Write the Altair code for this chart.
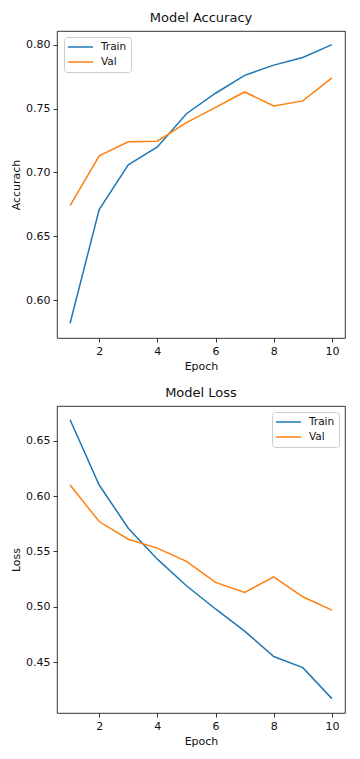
import altair as alt
import pandas as pd

epochs = [1, 2, 3, 4, 5, 6, 7, 8, 9, 10]
acc_train = [0.582, 0.671, 0.706, 0.720, 0.746, 0.762, 0.776, 0.784, 0.790, 0.800]
acc_val = [0.674, 0.713, 0.724, 0.7245, 0.739, 0.751, 0.763, 0.752, 0.756, 0.774]
loss_train = [0.669, 0.610, 0.571, 0.543, 0.519, 0.498, 0.478, 0.455, 0.445, 0.417]
loss_val = [0.610, 0.577, 0.561, 0.553, 0.541, 0.522, 0.513, 0.527, 0.509, 0.497]
series = ["Train", "Val"]
colors = ["#1f77b4", "#ff7f0e"]
x_ticks = [2, 4, 6, 8, 10]
acc_ticks = [0.60, 0.65, 0.70, 0.75, 0.80]
loss_ticks = [0.45, 0.50, 0.55, 0.60, 0.65]


def long_df(train, val):
    rows = []
    for e, v in zip(epochs, train):
        rows.append({"Epoch": e, "value": v, "Series": "Train"})
    for e, v in zip(epochs, val):
        rows.append({"Epoch": e, "value": v, "Series": "Val"})
    return pd.DataFrame(rows)


FONT = "DejaVu Sans"


def panel(df, title, ytitle, ydomain, yticks, legend_pos):
    legend_kw = dict(
        title=None, strokeColor="#cccccc", fillColor="white",
        cornerRadius=3, padding=4,
        symbolType="M-1.2,0L3.8,0", symbolSize=100,
        symbolStrokeWidth=1.5, labelFontSize=10.5,
        labelFont=FONT, labelColor="#111",
        rowPadding=3, labelOffset=21,
    )
    legend_kw.update(legend_pos)
    return (
        alt.Chart(df, title=alt.TitleParams(title, fontSize=13, fontWeight="normal",
                                            font=FONT, color="#111", offset=6))
        .mark_line(strokeWidth=1.5, clip=True)
        .encode(
            x=alt.X("Epoch:Q",
                    scale=alt.Scale(domain=[0.55, 10.45], nice=False, zero=False),
                    axis=alt.Axis(values=x_ticks, format="d", title="Epoch")),
            y=alt.Y("value:Q",
                    scale=alt.Scale(domain=ydomain, nice=False, zero=False),
                    axis=alt.Axis(values=yticks, format=".2f", title=ytitle)),
            color=alt.Color("Series:N",
                            scale=alt.Scale(domain=series, range=colors),
                            legend=alt.Legend(**legend_kw)),
        )
        .properties(width=288, height=307)
    )


top = panel(long_df(acc_train, acc_val), "Model Accuracy", "Accurach",
            [0.5705, 0.8107], acc_ticks,
            {"orient": "none", "legendX": 7, "legendY": 6})
bottom = panel(long_df(loss_train, loss_val), "Model Loss", "Loss",
               [0.404, 0.6814], loss_ticks,
               {"orient": "top-right", "offset": 6})

chart = (
    alt.vconcat(top, bottom, spacing=14)
    .properties(padding={"left": 2, "top": 3, "right": 5, "bottom": 5})
    .configure_view(stroke="black", strokeWidth=0.8)
    .configure_axis(
        domain=False, grid=False, tickColor="black", tickSize=4, tickWidth=0.8,
        labelFont=FONT, labelFontSize=11, labelColor="#111", labelPadding=3,
        titleFont=FONT, titleFontSize=11, titleFontWeight="normal",
        titleColor="#111", titlePadding=4,
    )
)

chart.save("out.html", embed_options={"renderer": "svg", "actions": False})
